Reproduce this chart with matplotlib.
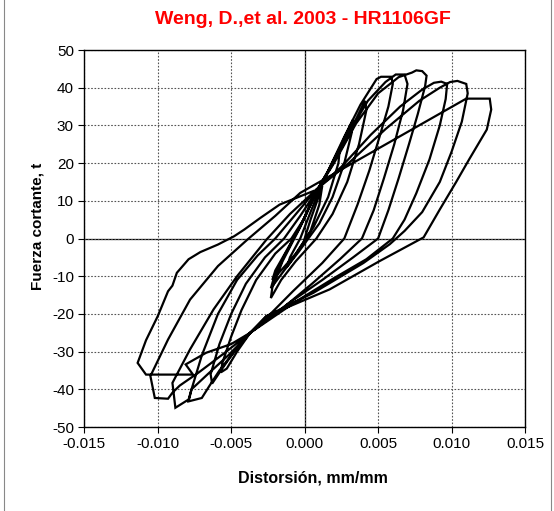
import matplotlib
matplotlib.use("Agg")
import matplotlib.pyplot as plt
import numpy as np

plt.rcParams['font.family'] = ['Liberation Sans', 'DejaVu Sans']

title = "Weng, D.,et al. 2003 - HR1106GF"
xlabel = "Distorsión, mm/mm"
ylabel = "Fuerza cortante, t"
xticks = [-0.015, -0.010, -0.005, 0.000, 0.005, 0.010, 0.015]
yticks = [-50, -40, -30, -20, -10, 0, 10, 20, 30, 40, 50]

# small cycles
x_s1 = [0.0, 0.0004, 0.0009, 0.0012, 0.0010, 0.0004, -0.0004, -0.0012, -0.0010, -0.0003, 0.0004]
y_s1 = [0.0, 5, 10.5, 14, 9, 2, -3, -7.5, -5, 0, 7]
x_s2 = [0.0012, 0.0019, 0.0024, 0.0023, 0.0016, 0.0006, -0.0006, -0.0015, -0.0022, -0.0020, -0.0012, -0.0002, 0.0007]
y_s2 = [15, 20, 24, 20, 11, 3, -4, -8, -11, -8.5, -3, 4, 11.5]
x_s3 = [0.0015, 0.0025, 0.0031, 0.0033, 0.0032, 0.0027, 0.0019, 0.0010, -0.0004, -0.0014, -0.0023, -0.0021, -0.0013, -0.0002, 0.0007]
y_s3 = [17, 25, 30, 31.6, 28, 20, 11, 4, -3.5, -8.5, -13.2, -10.5, -4, 4, 11.8]
x_s4 = [0.0017, 0.0028, 0.0036, 0.0041, 0.0042, 0.0037, 0.0029, 0.0019, 0.0008, -0.0006, -0.0016, -0.0023, -0.0022, -0.0015, -0.0003, 0.0008]
y_s4 = [18.5, 26, 32.5, 36.5, 34, 25, 15, 6.5, 0, -6, -11, -15.8, -13, -6, 3, 12.5]

# large cycles
x_c1 = [0.0016, 0.0027, 0.0038, 0.0049, 0.0052, 0.0059, 0.0060,
        0.0057, 0.0051, 0.0044, 0.0036, 0.0027, 0.0012, -0.0008, -0.0022, -0.0037,
        -0.0046, -0.0053, -0.0057, -0.0056,
        -0.0050, -0.0043, -0.0033, -0.0020, -0.0009, 0.0000, 0.0008]
y_c1 = [18, 27, 35.5, 42.3, 42.9, 42.9, 41,
        35, 27, 18, 9, 0, -6.5, -14, -19.5, -25,
        -30, -34.5, -35.5, -33,
        -26, -19, -11, -4, 0, 5.5, 12.5]
x_c2 = [0.0018, 0.0030, 0.0043, 0.0055, 0.0062, 0.0068, 0.0070,
        0.0067, 0.0061, 0.0054, 0.0047, 0.0039, 0.0024, 0.0005, -0.0015, -0.0037,
        -0.0048, -0.0057, -0.0063, -0.0064,
        -0.0058, -0.0050, -0.0040, -0.0027, -0.0014, -0.0003, 0.0008]
y_c2 = [19, 28, 36.5, 41.5, 43.5, 43.5, 41,
        34, 25, 16, 7.5, 0, -5.5, -12, -18.5, -25,
        -30, -35, -38.5, -36,
        -28, -20, -12, -5, 0, 6, 12.5]
x_c3 = [0.0020, 0.0035, 0.0050, 0.0064, 0.0073, 0.0076, 0.0080, 0.0083, 0.0082,
        0.0077, 0.0071, 0.0064, 0.0057, 0.0050, 0.0033, 0.0012, -0.0012, -0.0037,
        -0.0050, -0.0058, -0.0065, -0.0070, -0.0079, -0.0077,
        -0.0070, -0.0059, -0.0046, -0.0032, -0.0020, -0.0007, 0.0008]
y_c3 = [20, 30.5, 38.5, 42.8, 44, 44.6, 44.4, 43.2, 40.4,
        33, 25, 16, 7.5, 0, -5, -11, -17.5, -25,
        -31, -35, -39.2, -42.3, -43.2, -40,
        -31, -20, -11, -4.5, 0, 6, 13]
x_c4 = [0.0025, 0.0045, 0.0065, 0.0080, 0.0088, 0.0093, 0.0097,
        0.0096, 0.0092, 0.0085, 0.0076, 0.0068, 0.0060, 0.0042, 0.0020, -0.0005, -0.0037,
        -0.0052, -0.0066, -0.0077, -0.0079, -0.0088, -0.0090,
        -0.0078, -0.0062, -0.0046, -0.0026, -0.0010, 0.0008]
y_c4 = [19, 27.5, 35, 39.5, 41.3, 41.6, 41,
        37, 30, 21, 12, 5, 0, -5.5, -10.5, -16.5, -25,
        -31, -36, -40, -42.7, -44.9, -38.3,
        -29.4, -18.8, -10, -0.3, 6.5, 13]
x_c5 = [0.0030, 0.0055, 0.0078, 0.0092, 0.0099, 0.0104, 0.0110, 0.0111,
        0.0107, 0.0100, 0.0092, 0.0080, 0.0068, 0.0058, 0.0040, 0.0006, -0.0026, -0.0037,
        -0.0055, -0.0072, -0.0085, -0.0090, -0.0093, -0.0102, -0.0105,
        -0.0093, -0.0078, -0.0059, -0.0039, -0.0020, -0.0003]
y_c5 = [20, 29, 36.5, 40, 41.5, 41.8, 41, 38.5,
        31, 23, 15, 7, 2, -1.5, -6.5, -14.4, -20.6, -25,
        -30.5, -35.5, -39, -40.9, -42.5, -42.3, -36.5,
        -26.8, -16.2, -7.3, -0.3, 6, 12.1]
x_c6 = [0.0110, 0.0126, 0.0127, 0.0124, 0.0112, 0.0103, 0.0092, 0.0081, 0.0051, 0.0017, -0.0026, -0.0037,
        -0.0050, -0.0067, -0.0081, -0.0076, -0.0108, -0.01137,
        -0.0108, -0.0100, -0.0093, -0.0090, -0.0087, -0.0079, -0.0071, -0.0059, -0.0048, -0.0041, -0.0030, -0.0017, 0.0006]
y_c6 = [37.1, 37.1, 34.2, 28.9, 21, 14.9, 7.7, 0.3, -6, -13.5, -20.6, -25,
        -28, -30.3, -33.4, -36.1, -36.1, -33,
        -27, -20.6, -14, -12.5, -9.1, -5.5, -3.6, -1.6, 0.6, 2.4, 5.5, 9, 12.6]

xs = np.concatenate([x_s1, x_s2, x_s3, x_s4, x_c1, x_c2, x_c3, x_c4, x_c5, x_c6])
ys = np.concatenate([y_s1, y_s2, y_s3, y_s4, y_c1, y_c2, y_c3, y_c4, y_c5, y_c6])

fig = plt.figure(figsize=(5.54, 5.11), dpi=100)
ax = fig.add_axes([84.3/554, 1-427/511, (525-84.3)/554, (427-50)/511])

ax.plot(xs, ys, color='black', lw=1.6, solid_joinstyle='miter', zorder=3)

ax.set_xlim(-0.015, 0.015)
ax.set_ylim(-50, 50)
ax.set_xticks(xticks)
ax.set_yticks(yticks)
ax.set_xticklabels([f"{v:.3f}" for v in xticks])
ax.set_yticklabels([str(v) for v in yticks])
ax.tick_params(direction='out', length=4, width=0.8, labelsize=11, colors='black')
ax.grid(True, color='#555555', linestyle=(0, (1.5, 1.5)), lw=0.8, zorder=0)
ax.axhline(0, color='black', lw=0.9, zorder=1)
ax.axvline(0, color='black', lw=0.9, zorder=1)
for s in ax.spines.values():
    s.set_linewidth(1.0)
    s.set_color('black')

fig.text(303/554, 1-20/511, title, color='#ff0000', fontsize=14, fontweight='bold', ha='center', va='center')
fig.text(313/554, 1-478/511, xlabel, fontsize=11.5, fontweight='bold', ha='center', va='center')
fig.text(37/554, 1-226/511, ylabel, fontsize=11, fontweight='bold', ha='center', va='center', rotation=90)

# chart area border lines
fig.add_artist(plt.Line2D([4/554, 4/554], [0, 1], color='#888888', lw=0.8))
fig.add_artist(plt.Line2D([551/554, 551/554], [0, 1], color='#888888', lw=0.8))

fig.savefig("out.png", dpi=100)
